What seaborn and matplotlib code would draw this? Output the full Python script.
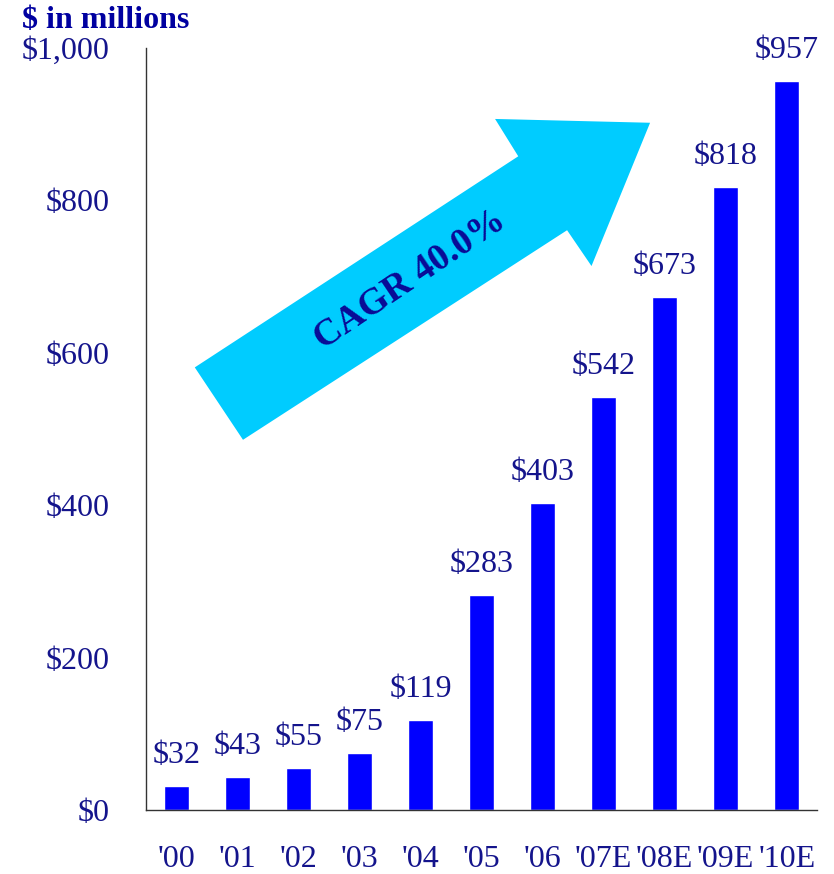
import matplotlib
matplotlib.use("Agg")
import matplotlib.pyplot as plt
import seaborn as sns
import pandas as pd
from matplotlib.patches import Polygon

# -------------------------------------------------------------------
# Data
# -------------------------------------------------------------------

years = ["'00", "'01", "'02", "'03", "'04", "'05", "'06", "'07E", "'08E", "'09E", "'10E"]
revenue = [32, 43, 55, 75, 119, 283, 403, 542, 673, 818, 957]
y_ticks = [0, 200, 400, 600, 800, 1000]
y_tick_labels = ["$0", "$200", "$400", "$600", "$800", "$1,000"]

df = pd.DataFrame({"year": years, "revenue": revenue})

navy = "#14148c"
bar_blue = "#0000ff"
arrow_cyan = "#00ccff"

# -------------------------------------------------------------------
# Plot
# -------------------------------------------------------------------

sns.set_style("white")
plt.rcParams["font.family"] = ["Liberation Serif", "DejaVu Serif"]

fig = plt.figure(figsize=(8.34, 8.74), dpi=100)
ax = fig.add_axes([0.175, 0.073, 0.805, 0.872])

sns.barplot(data=df, x="year", y="revenue", color=bar_blue, saturation=1,
            width=0.41, ax=ax)

for i, v in enumerate(revenue):
    ax.text(i, v + 21, f"${v}", ha="center", va="bottom", fontsize=23, color=navy)

# growth arrow
arrow_pts = [(0.30, 581), (1.09, 486), (6.40, 761), (6.80, 714),
             (7.76, 902), (5.22, 907), (5.60, 858)]
ax.add_patch(Polygon(arrow_pts, closed=True, facecolor=arrow_cyan,
                     edgecolor="none", zorder=3))
ax.text(3.83, 696, "CAGR 40.0%", rotation=34, ha="center", va="center",
        fontsize=27, fontweight="bold", color="#0a0a96", zorder=4,
        rotation_mode="anchor")

ax.set_xlim(-0.5, 10.5)
ax.set_ylim(0, 1000)
ax.set_yticks(y_ticks)
ax.set_yticklabels(y_tick_labels)
ax.set_xlabel("")
ax.set_ylabel("")
ax.tick_params(axis="y", length=0, pad=26, labelsize=23, labelcolor=navy)
ax.tick_params(axis="x", length=0, pad=25, labelsize=23, labelcolor=navy)

sns.despine(ax=ax)
for side in ["left", "bottom"]:
    ax.spines[side].set_color("#333333")
    ax.spines[side].set_linewidth(1.0)

fig.text(0.026, 0.977, "$ in millions", ha="left", va="center",
         fontsize=23, fontweight="bold", color="#0000a0")

fig.savefig("out.png", dpi=100)
